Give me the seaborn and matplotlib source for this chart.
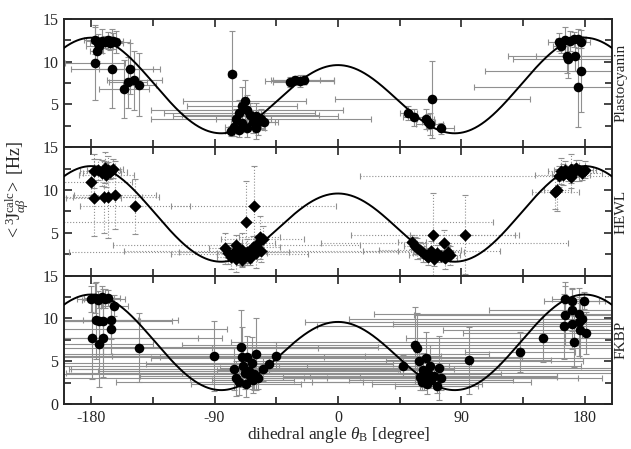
import numpy as np
import pandas as pd
import matplotlib
matplotlib.use("Agg")
import matplotlib.pyplot as plt
import seaborn as sns
from matplotlib.ticker import MultipleLocator

# Karplus-type curve parameters
KARPLUS_A, KARPLUS_B, KARPLUS_C = 9.5, -1.6, 1.7

panel_names = ["Plastocyanin", "HEWL", "FKBP"]
x_ticks = [-180, -90, 0, 90, 180]
y_ticks = [0, 5, 10, 15]

# ---- Plastocyanin: theta, J, xerr, yerr ----
pc_theta = [-177, -175, -174, -176, -172, -170, -168, -166, -164, -162,
            -177, -165, -152, -153, -156, -148.5, -145,
            -77, -68, -70, -66, -72, -64, -74, -60, -62, -70, -76, -66, -58, -72, -54, -60, -78, -56, -57,
            -35, -31, -28, -25,
            69, 51.5, 55.6, 64, 66, 67, 75,
            161, 163, 166, 169, 172, 175, 177, 167, 168, 172.6, 177, 175]
pc_J = [12.5, 12.2, 11.8, 11.3, 12.4, 12.3, 12.5, 12.2, 12.4, 12.3,
        9.9, 9.2, 9.2, 7.6, 6.8, 7.8, 7.3,
        8.6, 5.4, 4.8, 4.3, 4.0, 3.8, 3.3, 3.6, 3.0, 2.8, 2.4, 2.2, 2.9, 2.0, 3.0, 2.2, 1.9, 3.3, 3.3,
        7.6, 7.8, 7.7, 7.9,
        5.6, 4.0, 3.5, 3.3, 3.0, 2.7, 2.2,
        12.3, 11.8, 12.5, 12.4, 12.6, 12.7, 12.3, 10.7, 10.3, 10.7, 8.9, 7.0]
pc_xerr = [8, 6, 10, 5, 12, 8, 6, 9, 7, 10,
           22, 30, 22, 14, 18, 20, 12,
           3, 45, 40, 70, 55, 50, 15, 60, 10, 8, 6, 8, 12, 5, 10, 7, 4, 80, 8,
           12, 18, 25, 22,
           71, 6, 8, 6, 5, 10, 10,
           8, 6, 5, 10, 8, 6, 7, 43, 40, 28, 70, 76]
pc_yerr = [1.6, 1.0, 0.8, 1.2, 1.4, 0.7, 1.0, 0.8, 0.9, 1.3,
           4.4, 4.6, 3.0, 3.0, 3.4, 3.5, 3.7,
           5.0, 2.5, 2.2, 1.8, 1.5, 1.4, 1.2, 1.6, 1.3, 1.0, 1.1, 1.0, 1.5, 0.8, 1.0, 1.2, 0.6, 1.2, 0.6,
           0.6, 0.5, 0.7, 0.5,
           4.5, 0.8, 1.0, 1.2, 0.9, 1.3, 0.6,
           1.0, 0.8, 1.5, 1.2, 0.9, 1.1, 0.7, 2.0, 2.2, 1.8, 4.8, 4.6]

# ---- HEWL ----
hw_theta = [-178, -175, -172, -170, -168, -166, -164, -169,
            -180, -178, -170.5, -168, -162.4, -147.8,
            -67, -61.5, -57, -55,
            -82, -80, -78, -76, -74, -72, -70, -68, -66, -64, -62, -60, -58, -56, -74, -70,
            69.5, 77.5, 92.4,
            54, 56, 58, 60, 62, 64, 66, 68, 70, 72, 75, 78, 80, 82,
            158.7, 160, 161, 163, 166, 168, 170, 172, 174, 176, 178, 180, 170, 164]
hw_J = [12.2, 12.4, 12.0, 12.6, 12.3, 12.1, 12.5, 11.8,
        10.9, 9.1, 9.2, 9.2, 9.4, 8.1,
        6.3, 8.1, 4.5, 4.3,
        3.2, 2.6, 2.2, 2.8, 2.0, 2.5, 3.0, 2.3, 2.8, 2.1, 3.4, 2.6, 3.8, 2.9, 3.6, 1.8,
        4.7, 3.8, 4.8,
        3.9, 3.5, 3.2, 3.0, 2.7, 2.4, 2.2, 2.9, 2.0, 2.6, 2.3, 2.1, 2.8, 2.4,
        9.8, 10.0, 11.6, 12.2, 12.4, 11.9, 12.5, 12.1, 12.6, 12.3, 12.0, 12.4, 11.5, 11.8]
hw_xerr = [10, 8, 14, 6, 9, 12, 7, 20,
           30, 20, 40, 25, 30, 40,
           180, 60, 15, 30,
           12, 8, 10, 40, 6, 50, 14, 9, 130, 5, 20, 8, 12, 100, 90, 7,
           60, 90, 40,
           10, 8, 5, 30, 7, 12, 6, 50, 8, 10, 6, 9, 12, 7,
           17, 10, 145, 10, 8, 12, 6, 9, 7, 10, 15, 8, 6, 20]
hw_yerr = [2.0, 1.2, 1.5, 1.8, 1.0, 0.8, 1.1, 1.4,
           1.5, 4.5, 4.2, 4.8, 4.0, 3.2,
           4.8, 4.7, 2.5, 1.5,
           1.8, 1.2, 1.4, 1.0, 1.6, 1.3, 2.0, 1.1, 1.5, 0.9, 1.2, 1.7, 1.0, 1.3, 1.1, 0.7,
           5.0, 1.5, 4.6,
           0.8, 1.0, 1.2, 0.9, 1.1, 0.8, 1.0, 1.2, 0.9, 1.0, 0.7, 1.3, 0.8, 1.1,
           2.0, 2.5, 1.2, 1.5, 1.0, 0.8, 1.7, 1.0, 0.9, 1.2, 0.8, 1.0, 1.3, 1.2]

# ---- FKBP ----
fk_theta = [-180, -177, -175, -172, -170, -168, -163,
            -176.5, -174, -171, -165.6, -165.6, -179.7, -174.6, -171.7, -144.8,
            -90.5,
            -76, -74, -72, -71, -70, -69, -68, -67, -66, -65, -64, -63, -62, -61, -59.5, -58, -55, -50, -45,
            47.8, 56, 58, 59, 60, 61, 62, 63, 64, 65, 66, 67, 68, 70, 72, 74, 75,
            95.3, 132.6, 149.7,
            166, 170.5, 179.5, 165.6, 170.5, 176, 165, 170.5, 176, 176.6, 172, 181, 178]
fk_J = [12.3, 12.4, 12.2, 12.5, 12.3, 12.4, 11.5,
        9.8, 9.7, 9.7, 9.8, 8.8, 7.7, 7.0, 7.7, 6.6,
        5.6,
        4.1, 3.0, 2.6, 6.7, 5.5, 4.5, 3.6, 2.4, 5.5, 3.9, 3.3, 4.8, 2.8, 3.5, 5.8, 3.1, 4.15, 4.65, 5.66,
        4.5, 6.9, 6.6, 5.0, 3.2, 2.6, 4.0, 3.0, 5.4, 2.3, 3.6, 4.5, 2.8, 3.3, 2.1, 4.2, 3.0,
        5.1, 6.1, 7.75,
        12.3, 12.1, 12.1, 10.35, 11.0, 10.5, 9.1, 9.4, 9.6, 8.6, 7.3, 8.3, 9.9]
fk_xerr = [10, 8, 12, 6, 15, 9, 10,
           60, 30, 50, 20, 85, 95, 40, 70, 130,
           110,
           120, 140, 90, 100, 60, 150, 130, 40, 200, 110, 80, 160, 30, 180, 170, 50, 140, 90, 120,
           70, 170, 150, 120, 100, 80, 150, 130, 200, 40, 180, 110, 60, 90, 30, 160, 100,
           60, 40, 100,
           10, 20, 15, 110, 60, 150, 180, 130, 200, 100, 250, 90, 170]
fk_yerr = [1.5, 1.8, 1.0, 1.3, 1.1, 0.9, 1.2,
           4.5, 3.0, 3.8, 2.2, 3.0, 4.8, 5.0, 4.5, 4.0,
           4.1,
           2.5, 2.0, 1.5, 4.3, 3.5, 2.0, 1.8, 1.6, 2.5, 1.4, 1.2, 3.0, 1.5, 1.9, 4.2, 1.3, 1.5, 1.0, 1.6,
           1.2, 4.5, 4.0, 2.2, 1.5, 1.0, 2.0, 1.3, 3.0, 1.1, 1.7, 2.4, 0.9, 1.2, 0.8, 3.7, 1.3,
           3.9, 2.3, 2.8,
           2.0, 1.5, 1.0, 3.5, 2.5, 2.0, 3.8, 3.0, 4.0, 3.2, 3.0, 2.5, 2.2]

panels = [
    (pc_theta, pc_J, pc_xerr, pc_yerr, "o", "-"),
    (hw_theta, hw_J, hw_xerr, hw_yerr, "D", ":"),
    (fk_theta, fk_J, fk_xerr, fk_yerr, "o", "-"),
]

sns.set_style("ticks")
plt.rcParams["font.family"] = ["Liberation Serif", "DejaVu Serif"]
plt.rcParams["mathtext.fontset"] = "custom"
plt.rcParams["mathtext.rm"] = "Liberation Serif"
plt.rcParams["mathtext.it"] = "Liberation Serif:italic"
plt.rcParams["mathtext.bf"] = "Liberation Serif:bold"

fig = plt.figure(figsize=(6.31, 4.49), dpi=100)
gs = fig.add_gridspec(3, 1, left=0.101, right=0.970, top=0.958, bottom=0.100, hspace=0)
axes = [fig.add_subplot(gs[i]) for i in range(3)]

curve_theta = np.linspace(-200, 200, 801)
curve_rad = np.deg2rad(curve_theta)
curve_J = KARPLUS_A * np.cos(curve_rad) ** 2 + KARPLUS_B * np.cos(curve_rad) + KARPLUS_C
curve_df = pd.DataFrame({"theta": curve_theta, "J": curve_J})

for i, (ax, (th, J, xe, ye, mk, ls), name) in enumerate(zip(axes, panels, panel_names)):
    eb = ax.errorbar(th, J, xerr=xe, yerr=ye, fmt="none", ecolor="#909090",
                     elinewidth=0.8, capsize=2.2, capthick=0.8, zorder=1)
    for lc in eb[2]:
        lc.set_linestyle(ls)
    sns.lineplot(data=curve_df, x="theta", y="J", ax=ax, color="black", lw=1.4, zorder=3)
    df = pd.DataFrame({"theta": th, "J": J})
    sns.scatterplot(data=df, x="theta", y="J", ax=ax, marker=mk, color="black",
                    s=48 if mk == "o" else 40, edgecolor="black", linewidth=0, zorder=4)
    ax.set_xlim(-200, 200)
    ax.set_ylim(0, 15)
    ax.set_xticks(x_ticks)
    ax.set_yticks(y_ticks)
    ax.xaxis.set_minor_locator(MultipleLocator(45))
    ax.yaxis.set_minor_locator(MultipleLocator(2.5))
    ax.tick_params(which="both", direction="in", top=True, right=True, width=1.2, labelsize=11.5)
    ax.tick_params(which="major", length=6, pad=4)
    ax.tick_params(which="minor", length=5)
    for sp in ax.spines.values():
        sp.set_linewidth(1.4)
    ax.set_xlabel("")
    ax.set_ylabel("")
    if i < 2:
        ax.set_xticklabels([])
        ax.set_yticklabels(["", "5", "10", "15"])
    else:
        ax.set_xticklabels([str(t) for t in x_ticks])
    ax.text(1.0165, 0.5, name, transform=ax.transAxes, rotation=90,
            ha="center", va="center", fontsize=11)

fig.text(0.536, 0.032, r"dihedral angle $\theta_{\mathrm{B}}$ [degree]",
         ha="center", va="center", fontsize=12.5)
fig.text(0.028, 0.577, r"$<^{3}\!\mathrm{J}_{\alpha\beta}^{\mathrm{calc}}\!>$ [Hz]",
         rotation=90, ha="center", va="center", fontsize=13)

fig.savefig("out.png", dpi=100)
